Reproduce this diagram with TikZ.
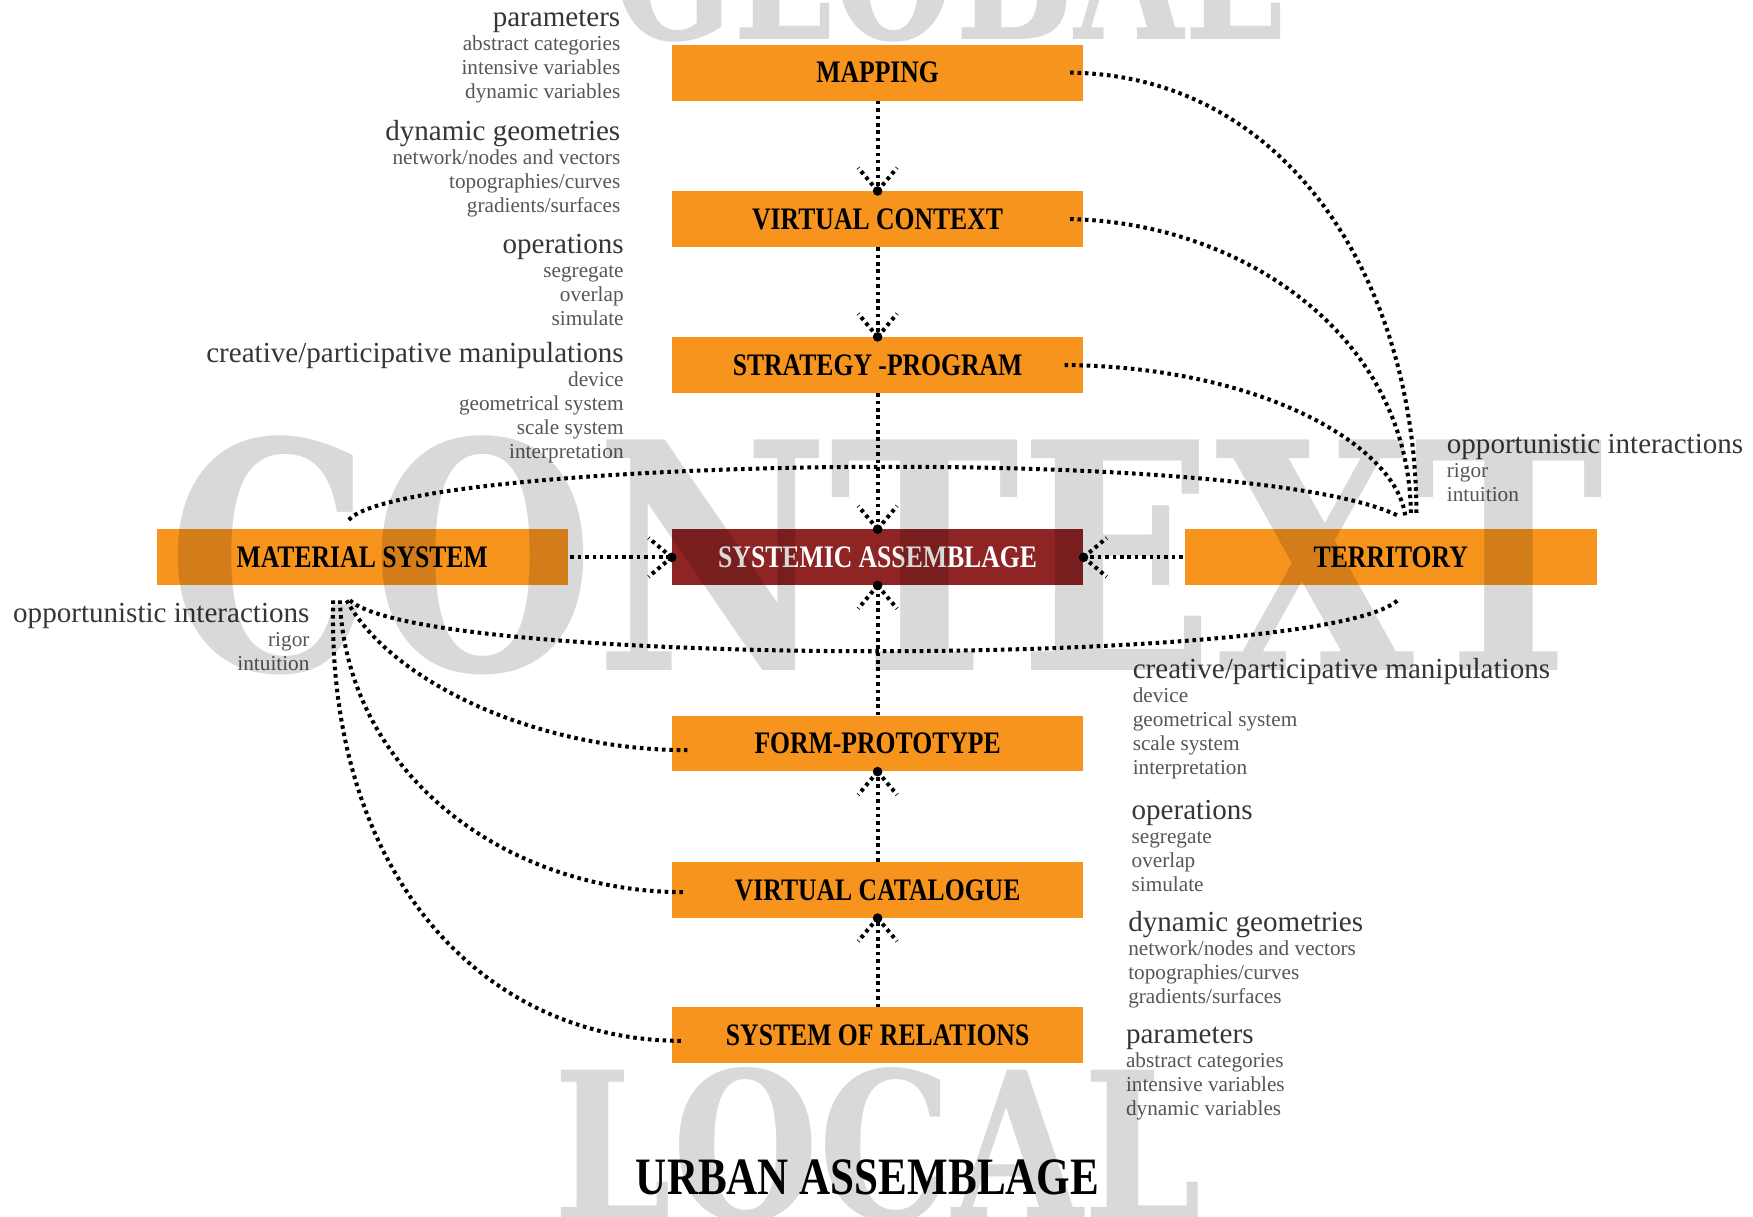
\documentclass[tikz,border=0pt]{standalone}
\usepackage{fontspec}
\setmainfont{Liberation Serif}
\newfontfamily\condfont{Liberation Serif}[FakeStretch=0.82]
\newfontfamily\bigfont{DejaVu Serif}
\usetikzlibrary{calc}
\definecolor{boxorange}{HTML}{F7941E}
\definecolor{boxred}{HTML}{8E2424}
\definecolor{hdgray}{HTML}{363636}
\definecolor{itgray}{HTML}{565656}
\tikzset{
  stage/.style={fill=boxorange, minimum width=368pt, minimum height=50pt, inner sep=0pt,
    font=\condfont\bfseries\fontsize{28}{30}\selectfont, text=black},
  core/.style={stage, fill=boxred, text=white},
  dotline/.style={line width=3.6pt, dash pattern=on 3.2pt off 3.4pt, black},
  hd/.style={font=\fontsize{26}{28}\selectfont, text=hdgray, inner sep=0pt, text height=18pt, text depth=6pt},
  it/.style={font=\fontsize{19}{21}\selectfont, text=itgray, inner sep=0pt, text height=13pt, text depth=4pt},
  bigword/.style={font=\bigfont\bfseries\fontsize{200}{200}\selectfont, text=black, text opacity=0.15, inner sep=0pt},
  titlefont/.style={font=\condfont\bfseries\fontsize{47}{50}\selectfont, text=black, inner sep=0pt},
}
\newcommand\dotarrowhead[2]{%
  \draw[dotline] (#1) -- ++({#2+180+40}:27pt);
  \draw[dotline] (#1) -- ++({#2+180-40}:27pt);
  \fill (#1) circle (4.3pt);
}
\newcommand\infoblock[6]{%
  \node[hd,anchor=#2] (#1) at (#3,#4) {#5};
  \foreach \t [count=\i] in {#6} {\node[it,anchor=#2] (#1-\i) at ({#3},{#4+1.5+21.5*\i}) {\t};}
}
\begin{document}
\begin{tikzpicture}[x=1pt,y=-1pt]
\useasboundingbox (0,0) rectangle (1568,1088);
\clip (0,0) rectangle (1568,1088);
\fill[white] (0,0) rectangle (1568,1088);

% boxes
\node[stage] (map) at (785,65) {MAPPING};
\node[stage] (vc) at (785,196) {VIRTUAL CONTEXT};
\node[stage] (strat) at (785,326.5) {STRATEGY -PROGRAM};
\node[core] (sys) at (785,498.5) {SYSTEMIC ASSEMBLAGE};
\node[stage] (mat) at (324,498.5) {MATERIAL SYSTEM};
\node[stage] (terr) at (1244,498.5) {TERRITORY};
\node[stage] (form) at (785,665) {FORM-PROTOTYPE};
\node[stage] (vcat) at (785,796) {VIRTUAL CATALOGUE};
\node[stage] (rel) at (785,926) {SYSTEM OF RELATIONS};
\node[titlefont] (title) at (776,1053) {URBAN ASSEMBLAGE};

% vertical chain
\draw[dotline] (map.south) -- (vc.north);
\dotarrowhead{vc.north}{-90}
\draw[dotline] (vc.south) -- (strat.north);
\dotarrowhead{strat.north}{-90}
\draw[dotline] (strat.south) -- (sys.north);
\dotarrowhead{sys.north}{-90}
\draw[dotline] (form.north) -- (sys.south);
\dotarrowhead{sys.south}{90}
\draw[dotline] (vcat.north) -- (form.south);
\dotarrowhead{form.south}{90}
\draw[dotline] (rel.north) -- (vcat.south);
\dotarrowhead{vcat.south}{90}
\draw[dotline] ([xshift=2pt]mat.east) -- (sys.west);
\dotarrowhead{sys.west}{0}
\draw[dotline] ([xshift=-2pt]terr.west) -- (sys.east);
\dotarrowhead{sys.east}{180}

% fan points
\coordinate (tA) at (1267,462);
\coordinate (tB) at (1262,462);
\coordinate (tC) at (1257,462);
\coordinate (tD) at (1252,462);
\coordinate (tE) at (1252,535);
\coordinate (mTop) at (312,465);
\coordinate (mE) at (313,537);
\coordinate (mA) at (310,537);
\coordinate (mB) at (304,537);
\coordinate (mC) at (298,537);

% curves to territory
\draw[dotline] ([xshift=-12pt]map.east) .. controls (1150,67) and (1267,250) .. (tA);
\draw[dotline] ([xshift=-12pt]vc.east) .. controls (1110,199) and (1262,300) .. (tB);
\draw[dotline] ([xshift=-17pt]strat.east) .. controls (1130,328) and (1250,400) .. (tC);
% big loop
\draw[dotline] (mTop) .. controls (360,410) and (1120,395) .. (tD);
\draw[dotline] (mE) .. controls (380,598) and (1200,598) .. (tE);
% curves from material
\draw[dotline] (mA) .. controls (350,610) and (480,671) .. ([xshift=14pt]form.west |- 0,671);
\draw[dotline] (mB) .. controls (310,690) and (450,798) .. ([xshift=11pt]vcat.west |- 0,798);
\draw[dotline] (mC) .. controls (292,780) and (430,931) .. ([xshift=9pt]rel.west |- 0,931);

% text blocks
\infoblock{pL}{east}{555}{18}{parameters}{abstract categories,intensive variables,dynamic variables}
\infoblock{gL}{east}{555}{120}{dynamic geometries}{network/nodes and vectors,topographies/curves,gradients/surfaces}
\infoblock{oL}{east}{558}{221}{operations}{segregate,overlap,simulate}
\infoblock{cL}{east}{558}{318}{creative/participative manipulations}{device,geometrical system,scale system,interpretation}
\infoblock{cR}{west}{1013}{601}{creative/participative manipulations}{device,geometrical system,scale system,interpretation}
\infoblock{oR}{west}{1012}{727}{operations}{segregate,overlap,simulate}
\infoblock{gR}{west}{1009}{827}{dynamic geometries}{network/nodes and vectors,topographies/curves,gradients/surfaces}
\infoblock{pR}{west}{1007}{927}{parameters}{abstract categories,intensive variables,dynamic variables}
\infoblock{opR}{west}{1294}{400}{opportunistic interactions}{rigor,intuition}
\infoblock{opL}{east}{277}{551}{opportunistic interactions}{rigor,intuition}

% background words
\node[bigword, anchor=base west] (wctx) at (150,600) {\resizebox{1285pt}{210pt}{CONTEXT}};
\node[bigword, anchor=base west] (wglob) at (548,35) {\resizebox{600pt}{132pt}{GLOBAL}};
\node[bigword, anchor=base west] (wloc) at (495,1091) {\resizebox{580pt}{136pt}{LOCAL}};
\end{tikzpicture}
\end{document}
